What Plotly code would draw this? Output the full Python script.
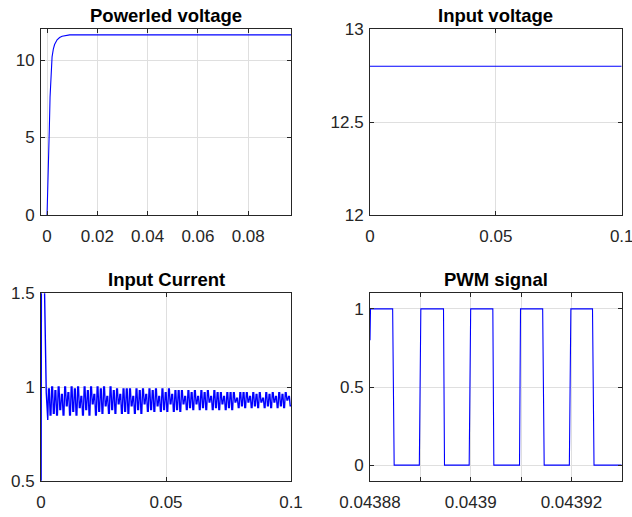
import numpy as np
import plotly.graph_objects as go

# ---------------- data ----------------
# Powerled voltage
pv_t = [0.0, 0.0003, 0.0006, 0.0009, 0.0012, 0.0016, 0.0020, 0.0025, 0.0030,
        0.0040, 0.0050, 0.0060, 0.0070, 0.0080, 0.0090, 0.0120, 0.1000]
pv_v = [0.0, 1.5, 3.5, 5.5, 7.6, 9.3, 10.2, 10.7, 11.0,
        11.3, 11.45, 11.53, 11.57, 11.6, 11.62, 11.62, 11.62]

# Input voltage
iv_t = [0.0, 0.1]
iv_v = [12.8, 12.8]

# Input current: start-up transient
ic_start_t = [0.0, 0.0003, 0.0008, 0.0013, 0.0015, 0.0017, 0.0019, 0.0021, 0.0024, 0.0027]
ic_start_v = [0.0, 3.0, 2.0, 1.6, 1.30, 1.20, 1.08, 0.97, 0.90, 0.824]
# Input current ripple: peak and trough of each ripple stripe (0.003 s .. 0.1 s)
ic_peak = [
    0.99, 1.00, 0.98, 1.00, 0.96, 1.00, 0.97, 1.00, 0.99, 1.00,
    0.95, 1.00, 0.98, 1.00, 0.96, 1.00, 0.99, 1.00, 0.95, 1.00,
    0.98, 0.99, 0.96, 0.99, 0.99, 0.99, 0.95, 0.99, 0.98, 0.99,
    0.96, 0.99, 0.98, 0.99, 0.95, 0.99, 0.97, 0.99, 0.96, 0.98,
    0.98, 0.98, 0.95, 0.98, 0.97, 0.98, 0.95, 0.98, 0.97, 0.98,
    0.95, 0.98, 0.97, 0.97, 0.95, 0.97, 0.97, 0.97, 0.94, 0.97,
    0.97, 0.97, 0.95, 0.97, 0.96, 0.97, 0.94, 0.97, 0.96, 0.97,
    0.95, 0.97, 0.96, 0.97, 0.95,
]
ic_trough = [
    0.85, 0.86, 0.85, 0.88, 0.85, 0.90, 0.85, 0.87, 0.85, 0.89,
    0.85, 0.88, 0.85, 0.91, 0.85, 0.87, 0.86, 0.90, 0.86, 0.88,
    0.86, 0.91, 0.86, 0.87, 0.86, 0.90, 0.86, 0.88, 0.86, 0.91,
    0.87, 0.88, 0.87, 0.90, 0.87, 0.88, 0.87, 0.91, 0.87, 0.88,
    0.87, 0.91, 0.88, 0.89, 0.88, 0.91, 0.88, 0.89, 0.88, 0.92,
    0.88, 0.89, 0.88, 0.91, 0.88, 0.89, 0.88, 0.92, 0.89, 0.90,
    0.89, 0.92, 0.89, 0.90, 0.89, 0.92, 0.89, 0.90, 0.89, 0.92,
    0.89, 0.90, 0.89, 0.93, 0.90,
]
ic_ripple_t0 = 0.0030
ic_ripple_t1 = 0.1000

# PWM signal (edge times and levels)
pwm_t = [0.04388, 0.0438801, 0.0438845, 0.0438848, 0.0438898, 0.0438901,
         0.0438946, 0.0438948, 0.0438997, 0.0439000, 0.0439044, 0.0439046,
         0.0439097, 0.0439099, 0.0439143, 0.0439146, 0.0439196, 0.0439199,
         0.0439242, 0.0439245, 0.04393]
pwm_v = [0.8, 1, 1, 0, 0, 1, 1, 0, 0, 1, 1, 0, 0, 1, 1, 0, 0, 1, 1, 0, 0]

pwm_tickvals = [0.04388, 0.04389, 0.04390, 0.04391, 0.04392, 0.04393]
pwm_ticktext = ["0.04388", "", "0.0439", "", "0.04392", ""]

titles = ["Powerled voltage", "Input voltage", "Input Current", "PWM signal"]

# ---------------- figure ----------------
ripple_v = []
for p, q in zip(ic_peak, ic_trough):
    ripple_v += [p, p, q, q]
ic_t = list(ic_start_t) + list(np.linspace(ic_ripple_t0, ic_ripple_t1, len(ripple_v)))
ic_v = list(ic_start_v) + ripple_v

W, H = 632, 517
LINE = dict(color="#0000ff", width=1.1)
FONT = "Liberation Sans, Arial, Helvetica, sans-serif"

fig = go.Figure()
fig.add_trace(go.Scatter(x=pv_t, y=pv_v, mode="lines", line=LINE, xaxis="x", yaxis="y"))
fig.add_trace(go.Scatter(x=iv_t, y=iv_v, mode="lines", line=LINE, xaxis="x2", yaxis="y2"))
fig.add_trace(go.Scatter(x=ic_t, y=ic_v, mode="lines", line=dict(color="#0000ff", width=1.4),
                         xaxis="x3", yaxis="y3"))
fig.add_trace(go.Scatter(x=pwm_t, y=pwm_v, mode="lines", line=LINE, xaxis="x4", yaxis="y4"))

def px_x(v):
    return v / W

def px_y(v):
    return 1 - v / H

xl, xr = px_x(41), px_x(291)
xl2, xr2 = px_x(370), px_x(621.7)
yt, yb = px_y(29), px_y(215)
yt2, yb2 = px_y(293.3), px_y(480.7)

def ax(domain, anchor, rng, **kw):
    d = dict(domain=domain, anchor=anchor, range=rng, showline=True, linecolor="#262626",
             linewidth=1, mirror="ticks", ticks="inside", ticklen=4, tickcolor="#262626",
             showgrid=True, gridcolor="#dfdfdf", gridwidth=1, zeroline=False,
             automargin=False, ticklabeloverflow="allow",
             tickfont=dict(family=FONT, size=17, color="#262626"))
    d.update(kw)
    return d

XS, YS = 6, 2
fig.update_layout(
    width=W, height=H, margin=dict(l=0, r=0, t=0, b=0),
    paper_bgcolor="white", plot_bgcolor="white", showlegend=False,
    xaxis=ax([xl, xr], "y", [-0.0024, 0.097], tickvals=[0, 0.02, 0.04, 0.06, 0.08],
             ticktext=["0", "0.02", "0.04", "0.06", "0.08"], ticklabelstandoff=XS),
    yaxis=ax([yb, yt], "x", [0, 12], tickvals=[0, 5, 10], ticklabelstandoff=YS),
    xaxis2=ax([xl2, xr2], "y2", [0, 0.1], tickvals=[0, 0.05, 0.1],
              ticktext=["0", "0.05", "0.1"], ticklabelstandoff=XS),
    yaxis2=ax([yb, yt], "x2", [12, 13], tickvals=[12, 12.5, 13], ticklabelstandoff=YS),
    xaxis3=ax([xl, xr], "y3", [0, 0.1], tickvals=[0, 0.05, 0.1],
              ticktext=["0", "0.05", "0.1"], ticklabelstandoff=XS),
    yaxis3=ax([yb2, yt2], "x3", [0.5, 1.5], tickvals=[0.5, 1, 1.5], ticklabelstandoff=YS),
    xaxis4=ax([xl2, xr2], "y4", [0.04388, 0.04393], tickvals=pwm_tickvals,
              ticktext=pwm_ticktext, ticklabelstandoff=XS),
    yaxis4=ax([yb2, yt2], "x4", [-0.1, 1.1], tickvals=[0, 0.5, 1], ticklabelstandoff=YS),
)

for (x0, x1, ytop), title in zip([(xl, xr, yt), (xl2, xr2, yt), (xl, xr, yt2), (xl2, xr2, yt2)], titles):
    fig.add_annotation(x=(x0 + x1) / 2, y=ytop, xref="paper", yref="paper",
                       xanchor="center", yanchor="bottom", yshift=1, showarrow=False,
                       text=title, font=dict(family=FONT, size=18.5, color="black", weight="bold"))

# remove the default page margin so the figure sits at the window's top-left corner
fig.write_html("out.html", config={"displayModeBar": False},
               post_script="document.body.style.margin='0px';")
